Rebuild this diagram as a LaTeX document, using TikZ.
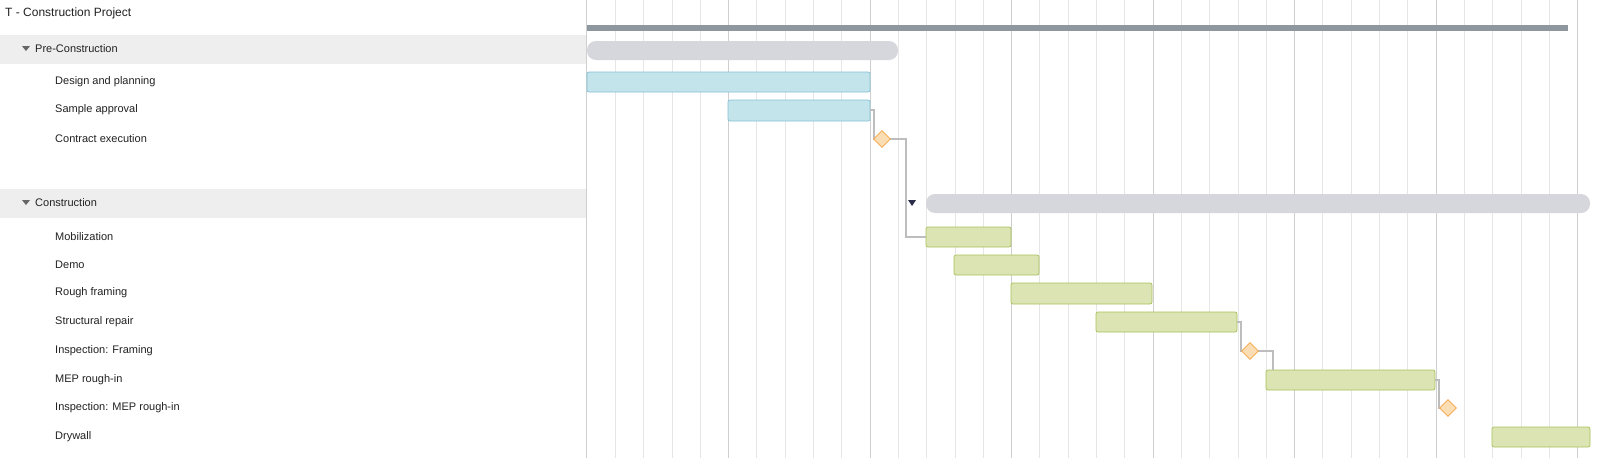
\documentclass[tikz,border=0pt]{standalone}
\usepackage{fontspec}
\setmainfont{Liberation Sans}
\usetikzlibrary{shapes.geometric}
\definecolor{band}{HTML}{EEEEEE}
\definecolor{gridl}{HTML}{E6E6E6}
\definecolor{gridd}{HTML}{CFCFCF}
\definecolor{topbar}{HTML}{8E969E}
\definecolor{sumbar}{HTML}{D6D7DC}
\definecolor{bluef}{HTML}{C4E4EC}
\definecolor{blued}{HTML}{86C0D6}
\definecolor{greenf}{HTML}{DCE4B4}
\definecolor{greend}{HTML}{A8C05A}
\definecolor{msf}{HTML}{FBDDB3}
\definecolor{msd}{HTML}{F3A545}
\definecolor{lnk}{HTML}{BDBDBD}
\definecolor{txt}{HTML}{222222}
\definecolor{togc}{HTML}{666666}
\definecolor{arr}{HTML}{2A2D4A}
\begin{document}
\begin{tikzpicture}[x=1pt,y=-1pt,
  lbl/.style={anchor=west,inner sep=0,font=\fontsize{11}{13}\selectfont,text=txt},
  blue/.style={fill=bluef,draw=blued,rounded corners=2pt,line width=0.7pt},
  green/.style={fill=greenf,draw=greend,rounded corners=2pt,line width=0.7pt},
  ms/.style={diamond,fill=msf,draw=msd,line width=0.7pt,minimum size=17pt,inner sep=0},
  link/.style={draw=lnk,line width=1.5pt}]
\useasboundingbox (0,0) rectangle (1600,458);
\fill[white] (0,0) rectangle (1600,458);
\fill[band] (0,35) rectangle (586,64);
\fill[band] (0,189) rectangle (586,218);
\draw[gridd,line width=0.6pt] (586.5,0) -- (586.5,458);
\foreach \xx in {615.3,643.6,671.9,700.2,756.8,785.1,813.4,841.7,898.3,926.6,954.9,983.2,1039.8,1068.1,1096.4,1124.7,1181.3,1209.6,1237.9,1266.2,1322.8,1351.1,1379.4,1407.7,1464.3,1492.6,1520.9,1549.2}
  \draw[gridl,line width=0.7pt] (\xx,0) -- (\xx,458);
\foreach \xx in {728.5,870,1011.5,1153,1294.5,1436,1577.5}
  \draw[gridd,line width=0.9pt] (\xx,0) -- (\xx,458);
\node[lbl,font=\fontsize{12}{14}\selectfont] (title) at (5,13) {T - Construction Project};
\fill[togc] (22,46) -- (30,46) -- (26,51) -- cycle;
\node[lbl] (pre) at (35,49) {Pre-Construction};
\node[lbl] (l1) at (55,82) {Design and planning};
\node[lbl] (l2) at (55,110) {Sample approval};
\node[lbl] (l3) at (55,139) {Contract execution};
\fill[togc] (22,200) -- (30,200) -- (26,205) -- cycle;
\node[lbl] (con) at (35,203) {Construction};
\node[lbl] (l4) at (55,237) {Mobilization};
\node[lbl] (l5) at (55,265) {Demo};
\node[lbl] (l6) at (55,293) {Rough framing};
\node[lbl] (l7) at (55,322) {Structural repair};
\node[lbl] (l8) at (55,351) {Inspection: Framing};
\node[lbl] (l9) at (55,380) {MEP rough-in};
\node[lbl] (l10) at (55,408) {Inspection: MEP rough-in};
\node[lbl] (l11) at (55,437) {Drywall};
\fill[topbar] (587,25) rectangle (1568,31);
\fill[sumbar,rounded corners=9pt] (587,41) rectangle (898,60);
\fill[sumbar,rounded corners=9pt] (926,194) rectangle (1590,213);
\fill[arr] (908,200) -- (916,200) -- (912,206) -- cycle;
\draw[blue] (587,72) rectangle (870,92);
\draw[blue] (728,100) rectangle (870,121);
\draw[green] (926,227) rectangle (1011,247);
\draw[green] (954,255) rectangle (1039,275);
\draw[green] (1011,283) rectangle (1152,304);
\draw[green] (1096,312) rectangle (1237,332);
\draw[green] (1266,370) rectangle (1435,390);
\draw[green] (1492,427) rectangle (1590,447);
\coordinate (s1) at (870,110);
\coordinate (s2) at (1237,322);
\coordinate (s3) at (1435,380);
\coordinate (t1) at (926,237);
\coordinate (t2) at (1273,370);
\coordinate (m1c) at (882,139);
\coordinate (m2c) at (1250,351);
\coordinate (m3c) at (1448,408);
\draw[link] (s1) -- (874,110) -- (874,139) -- (m1c);
\draw[link] (m1c) -- (906,139) -- (906,237) -- (t1);
\draw[link] (s2) -- (1241,322) -- (1241,351) -- (m2c);
\draw[link] (m2c) -- (1273,351) -- (t2);
\draw[link] (s3) -- (1439,380) -- (1439,408) -- (m3c);
\node[ms] (m1) at (m1c) {};
\node[ms] (m2) at (m2c) {};
\node[ms] (m3) at (m3c) {};
\end{tikzpicture}
\end{document}
